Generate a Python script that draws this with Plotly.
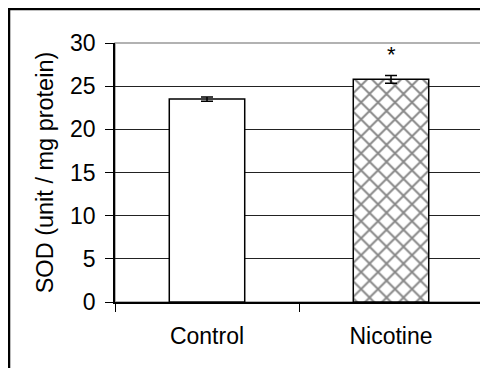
import plotly.graph_objects as go

categories = ["Control", "Nicotine"]
values = [23.5, 25.8]
errors = [0.25, 0.45]
patterns = ["", "x"]
significance = ["", "*"]
y_ticks = [0, 5, 10, 15, 20, 25, 30]

FONT = "Liberation Sans, Arial, sans-serif"

fig = go.Figure()
fig.add_trace(go.Bar(
    x=categories, y=values,
    width=0.41,
    marker=dict(
        color="white",
        line=dict(color="black", width=1.5),
        pattern=dict(shape=patterns, fgcolor="#111111", bgcolor="white",
                     size=12, solidity=0.3, fillmode="overlay"),
    ),
    error_y=dict(type="data", array=errors, visible=True,
                 color="black", thickness=1.5, width=6),
    showlegend=False,
))

for c, v, e, s in zip(categories, values, errors, significance):
    if s:
        fig.add_annotation(x=c, y=v + e + 2.4, text=s, showarrow=False,
                           font=dict(family=FONT, size=22, color="black"))

# plot area frame (gray)
fig.add_shape(type="rect", xref="paper", yref="paper", x0=0, x1=1, y0=0, y1=1,
              line=dict(color="#999999", width=1.5), layer="below")
# outer black frame
fig.add_shape(type="rect", xref="paper", yref="paper",
              x0=-0.288, x1=1.1, y0=-0.5, y1=1.131,
              line=dict(color="black", width=2.5), layer="below")

fig.update_layout(
    width=488, height=368,
    margin=dict(l=107, r=13, t=35, b=74),
    paper_bgcolor="white", plot_bgcolor="white",
    font=dict(family=FONT, size=23, color="black"),
    bargap=0.59,
)
fig.update_xaxes(
    showline=True, linecolor="black", linewidth=1.5,
    ticks="outside", ticklen=8, tickcolor="black", tickwidth=1,
    tickson="boundaries", showgrid=False, automargin=False,
    tickfont=dict(size=23), ticklabelstandoff=13,
)
fig.update_yaxes(
    range=[0, 30], tickvals=y_ticks,
    showline=True, linecolor="black", linewidth=1.5,
    ticks="outside", ticklen=8, tickcolor="black", tickwidth=1,
    showgrid=True, gridcolor="#222222", gridwidth=1,
    zeroline=False, automargin=False,
    tickfont=dict(size=23), ticklabelstandoff=5,
    title=dict(text="SOD (unit / mg protein)", font=dict(size=23.5), standoff=10),
)

fig.write_html("out.html")
